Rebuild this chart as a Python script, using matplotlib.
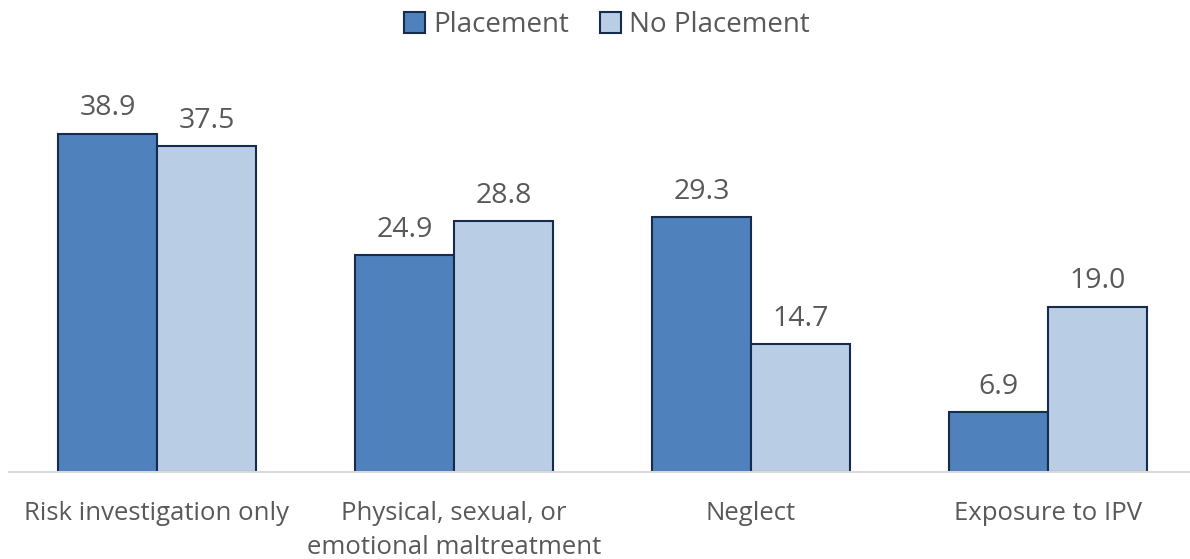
import matplotlib.pyplot as plt
import numpy as np

categories = ["Risk investigation only", "Physical, sexual, or\nemotional maltreatment",
              "Neglect", "Exposure to IPV"]
placement = [38.9, 24.9, 29.3, 6.9]
no_placement = [37.5, 28.8, 14.7, 19.0]

plt.rcParams["font.family"] = ["Open Sans", "DejaVu Sans"]
TEXT = "#595959"

fig = plt.figure(figsize=(11.9, 5.59), dpi=100)
ax = fig.add_axes([8.5 / 1190, 0.156, 1188 / 1190, 0.70])

x = np.arange(len(categories))
w = 1 / 3
b1 = ax.bar(x - w / 2, placement, w, color="#4F81BD", edgecolor="#172B4D", lw=1.5, label="Placement")
b2 = ax.bar(x + w / 2, no_placement, w, color="#B9CDE5", edgecolor="#172B4D", lw=1.5, label="No Placement")
for bars in (b1, b2):
    ax.bar_label(bars, fmt="%.1f", padding=8, fontsize=20.5, color=TEXT)

ax.set_xlim(-0.5, 3.5)
ax.set_ylim(0, 45)
ax.set_yticks([])
ax.set_xticks(x, categories, fontsize=18.5, color=TEXT, linespacing=1.5)
ax.tick_params(axis="x", length=0, pad=21)
for s in ("top", "left", "right"):
    ax.spines[s].set_visible(False)
ax.spines["bottom"].set_color("#D9D9D9")
ax.spines["bottom"].set_linewidth(1.5)

fig.legend(loc="center", bbox_to_anchor=(0.51, 0.955), ncol=2, frameon=False,
           fontsize=20, labelcolor=TEXT, handlelength=0.75, handleheight=0.75,
           handletextpad=0.3, columnspacing=1.1)

fig.savefig("out.png", dpi=100)
